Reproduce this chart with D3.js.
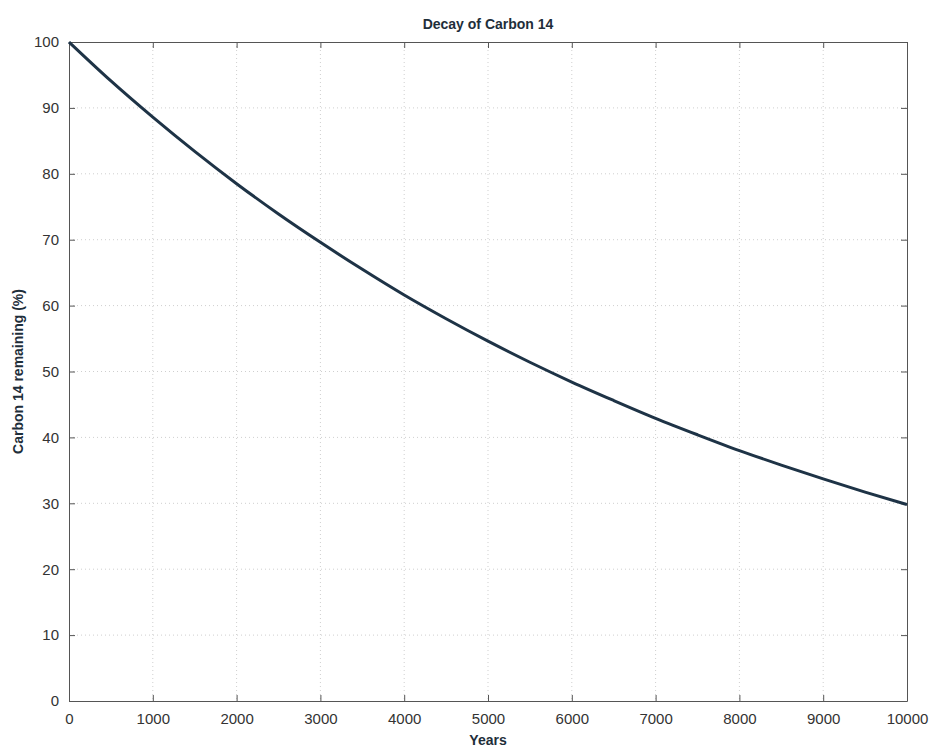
<!DOCTYPE html>
<html><head><meta charset="utf-8">
<script src="https://cdn.jsdelivr.net/npm/d3@7"></script>
<style>body{margin:0;background:#fff;font-family:"Liberation Sans",Arial,sans-serif}</style>
</head><body><svg id="c" width="934" height="747"></svg>
<script>
const years = [0,500,1000,1500,2000,2500,3000,3500,4000,4500,5000,5500,6000,6500,7000,7500,8000,8500,9000,9500,10000];
const remaining = [100,94.1,88.6,83.4,78.5,73.9,69.6,65.5,61.6,58.0,54.6,51.4,48.4,45.6,42.9,40.4,38.0,35.8,33.7,31.7,29.8];
const xTicks = [0,1000,2000,3000,4000,5000,6000,7000,8000,9000,10000];
const yTicks = [0,10,20,30,40,50,60,70,80,90,100];

const svg = d3.select("#c");
const L=69,R=907,T=42,B=701;
const x = d3.scaleLinear().domain([0,10000]).range([L,R]);
const y = d3.scaleLinear().domain([0,100]).range([B,T]);
const g = svg.append("g");
// grid
g.selectAll(".gx").data(xTicks.slice(1,-1)).join("line")
 .attr("x1",d=>x(d)).attr("x2",d=>x(d)).attr("y1",T).attr("y2",B)
 .attr("stroke","#cfcfcf").attr("stroke-width",1).attr("stroke-dasharray","1,3");
g.selectAll(".gy").data(yTicks.slice(1,-1)).join("line")
 .attr("y1",d=>y(d)).attr("y2",d=>y(d)).attr("x1",L).attr("x2",R)
 .attr("stroke","#cfcfcf").attr("stroke-width",1).attr("stroke-dasharray","1,3");
// axes
const axStyle = s => { s.select(".domain").attr("stroke","#555"); s.selectAll(".tick line").attr("stroke","#555");
  s.selectAll("text").attr("fill","#333").style("font-size","15px").style("font-family","'Liberation Sans',Arial,sans-serif"); };
const fmt = d3.format("d");
svg.append("g").attr("transform",`translate(0,${B})`).call(d3.axisBottom(x).tickValues(xTicks).tickFormat(fmt).tickSize(-6).tickPadding(12).tickSizeOuter(0)).call(axStyle);
svg.append("g").attr("transform",`translate(0,${T})`).call(d3.axisTop(x).tickValues(xTicks).tickSize(-6).tickFormat("").tickSizeOuter(0)).call(axStyle);
svg.append("g").attr("transform",`translate(${L},0)`).call(d3.axisLeft(y).tickValues(yTicks).tickFormat(fmt).tickSize(-6).tickPadding(10).tickSizeOuter(0)).call(axStyle);
svg.append("g").attr("transform",`translate(${R},0)`).call(d3.axisRight(y).tickValues(yTicks).tickSize(-6).tickFormat("").tickSizeOuter(0)).call(axStyle);
// line
svg.append("path").datum(years.map((d,i)=>[d,remaining[i]]))
 .attr("fill","none").attr("stroke","#1e3346").attr("stroke-width",3)
 .attr("d",d3.line().x(d=>x(d[0])).y(d=>y(d[1])).curve(d3.curveMonotoneX));
// labels
svg.append("text").attr("x",(L+R)/2).attr("y",29).attr("text-anchor","middle")
 .style("font-weight","bold").style("font-size","14px").attr("fill","#1e2e3a").text("Decay of Carbon 14");
svg.append("text").attr("x",(L+R)/2).attr("y",745).attr("text-anchor","middle")
 .style("font-weight","bold").style("font-size","14px").attr("fill","#1e2e3a").text("Years");
svg.append("text").attr("transform",`translate(23,${(T+B)/2}) rotate(-90)`).attr("text-anchor","middle")
 .style("font-weight","bold").style("font-size","14px").attr("fill","#1e2e3a").text("Carbon 14 remaining (%)");
</script></body></html>
